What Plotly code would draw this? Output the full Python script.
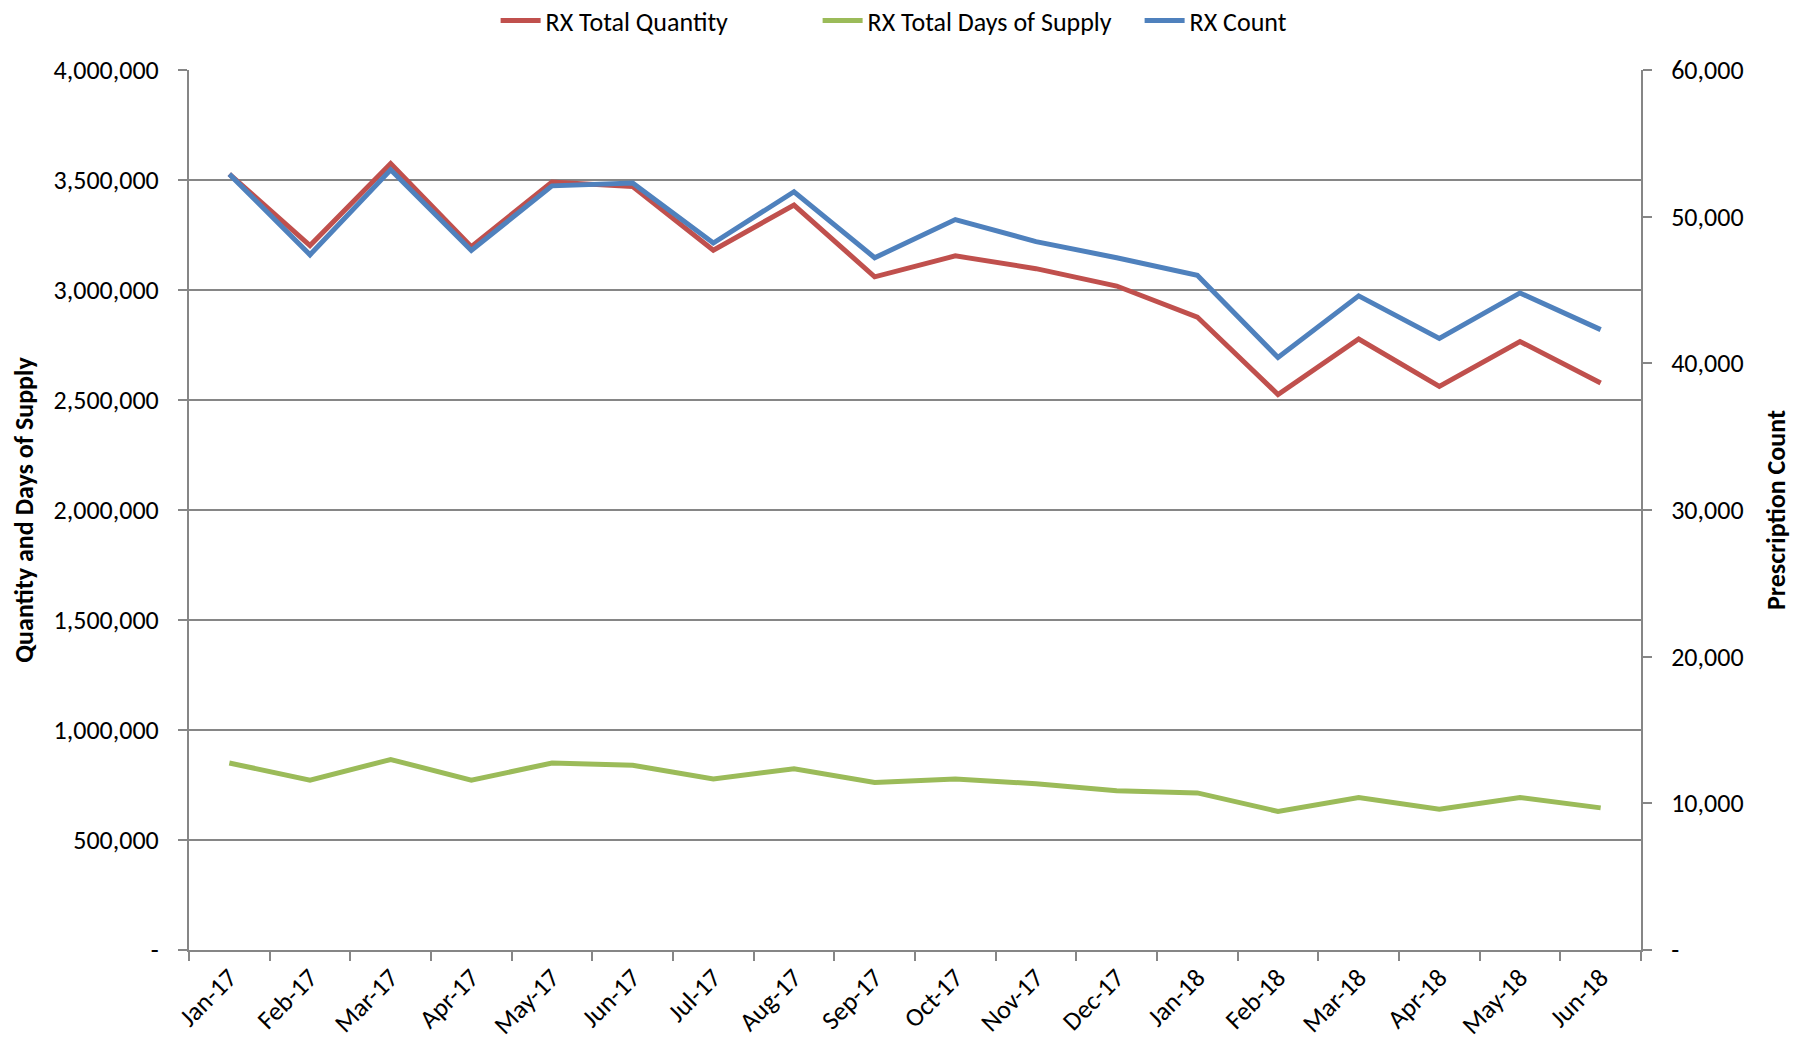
import plotly.graph_objects as go

months = ["Jan-17", "Feb-17", "Mar-17", "Apr-17", "May-17", "Jun-17", "Jul-17", "Aug-17", "Sep-17",
          "Oct-17", "Nov-17", "Dec-17", "Jan-18", "Feb-18", "Mar-18", "Apr-18", "May-18", "Jun-18"]

rx_total_quantity = [3527000, 3202000, 3575000, 3197000, 3491000, 3470000, 3181000, 3386000, 3060000,
                     3155000, 3097000, 3018000, 2877000, 2525000, 2777000, 2562000, 2766000, 2577000]

rx_total_days_supply = [850000, 772000, 866000, 772000, 850000, 840000, 777000, 824000, 761000,
                        777000, 756000, 724000, 714000, 630000, 693000, 640000, 693000, 646000]

rx_count = [52900, 47400, 53200, 47700, 52100, 52300, 48200, 51700, 47200,
            49800, 48300, 47200, 46000, 40400, 44600, 41700, 44800, 42300]

left_tickvals = [0, 500000, 1000000, 1500000, 2000000, 2500000, 3000000, 3500000, 4000000]
left_ticktext = ["-", "500,000", "1,000,000", "1,500,000", "2,000,000", "2,500,000",
                 "3,000,000", "3,500,000", "4,000,000"]
right_tickvals = [0, 10000, 20000, 30000, 40000, 50000, 60000]
right_ticktext = ["-", "10,000", "20,000", "30,000", "40,000", "50,000", "60,000"]

FONT = "Carlito, Liberation Sans Narrow, Open Sans, sans-serif"
GRID = "#868686"
FS = 26

fig = go.Figure()
fig.add_trace(go.Scatter(x=months, y=rx_total_quantity, name="RX Total Quantity", mode="lines",
                         line=dict(color="#C0504D", width=5)))
fig.add_trace(go.Scatter(x=months, y=rx_total_days_supply, name="RX Total Days of Supply", mode="lines",
                         line=dict(color="#9BBB59", width=5)))
fig.add_trace(go.Scatter(x=months, y=rx_count, name="RX Count", mode="lines", yaxis="y2",
                         line=dict(color="#4F81BD", width=5)))

fig.update_layout(
    width=1810, height=1043,
    margin=dict(l=181, r=177, t=62, b=101, autoexpand=False),
    paper_bgcolor="white", plot_bgcolor="white",
    font=dict(family=FONT, size=FS, color="black"),
    showlegend=True,
    legend=dict(orientation="h", x=0.2694, xref="container", xanchor="left",
                y=0.988, yref="container", yanchor="middle",
                font=dict(size=FS), itemwidth=40, traceorder="normal", tracegroupgap=0,
                entrywidth=267, entrywidthmode="pixels"),
    xaxis=dict(type="category", range=[-0.5, 17.5], tickson="boundaries", ticks="outside",
               ticklen=9, tickcolor=GRID, tickwidth=2, showline=True, linecolor=GRID, linewidth=2,
               showgrid=False, tickangle=-45, tickfont=dict(size=FS), zeroline=False),
    yaxis=dict(range=[0, 4000000], tickvals=left_tickvals, ticktext=left_ticktext,
               ticks="outside", ticklen=9, tickcolor=GRID, tickwidth=2, ticklabelstandoff=14,
               showline=True, linecolor=GRID, linewidth=2, showgrid=True, gridcolor=GRID,
               gridwidth=2, zeroline=False, tickfont=dict(size=FS),
               title=dict(text="<b>Quantity and Days of Supply</b>", font=dict(size=FS), standoff=30)),
    yaxis2=dict(range=[0, 60000], tickvals=right_tickvals, ticktext=right_ticktext,
                overlaying="y", side="right", ticks="outside", ticklen=9, tickcolor=GRID, tickwidth=2,
                ticklabelstandoff=14,
                showline=True, linecolor=GRID, linewidth=2, showgrid=False, zeroline=False,
                tickfont=dict(size=FS),
                title=dict(text="<b>Prescription Count</b>", font=dict(size=FS), standoff=24)),
)

fig.write_html("out.html")
